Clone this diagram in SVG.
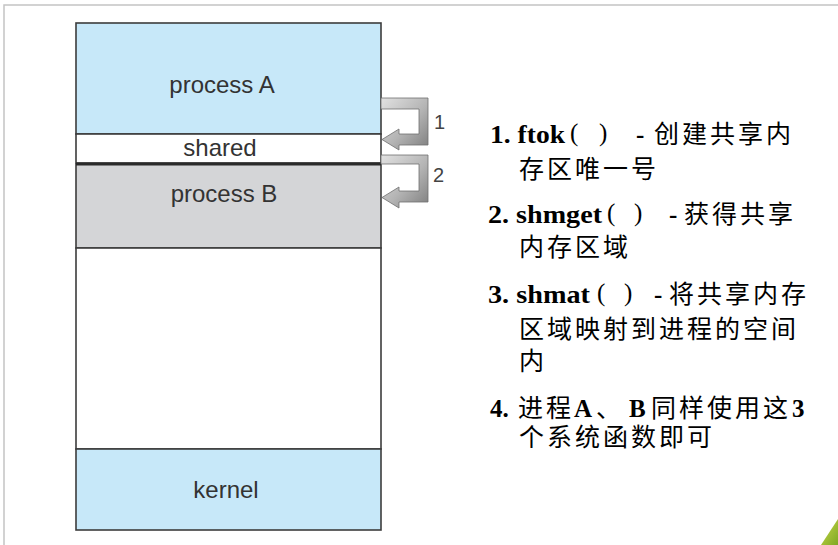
<svg xmlns="http://www.w3.org/2000/svg" width="838" height="545" viewBox="0 0 838 545">
  <defs>
    <linearGradient id="arrowGrad" x1="0" y1="0" x2="1" y2="1">
      <stop offset="0" stop-color="#e2e2e2"/>
      <stop offset="0.55" stop-color="#b4b4b4"/>
      <stop offset="1" stop-color="#7e7e7e"/>
    </linearGradient>
    <linearGradient id="leafGrad" x1="0" y1="0" x2="1" y2="1">
      <stop offset="0" stop-color="#c9d94a"/>
      <stop offset="1" stop-color="#7fa823"/>
    </linearGradient>
  </defs>
  <style>
    .seg { stroke: #3c3c3c; stroke-width: 1.6; }
    .blue { fill: #c7e8f9; }
    .gray { fill: #d4d5d7; }
    .white { fill: #ffffff; }
    .lbl { font-family: "Liberation Sans", Arial, sans-serif; font-size: 24px; fill: #333333; text-anchor: middle; }
    .num { font-family: "Liberation Sans", Arial, sans-serif; font-size: 20px; fill: #444444; }
    .arrow { fill: url(#arrowGrad); stroke: #6e6e6e; stroke-width: 0.8; }
    .lat { font-family: "Liberation Serif", "Times New Roman", serif; font-weight: bold; font-size: 25px; fill: #000; }
    .par { font-family: "Liberation Serif", "Times New Roman", serif; font-size: 25px; fill: #000; }
    .cjk { font-family: "Noto Sans CJK SC", sans-serif; font-size: 25px; letter-spacing: 3px; fill: #000; }
  </style>

  <rect x="0" y="0" width="838" height="545" fill="#ffffff"/>
  <path d="M4,545 L4,5 L838,5" fill="none" stroke="#c4c4c4" stroke-width="1.5"/>
  <polygon points="821,545 838,519 838,545" fill="url(#leafGrad)"/>

  <g id="processA">
    <rect class="seg blue" x="76" y="23" width="305" height="111"/>
    <text class="lbl" x="222" y="93">process A</text>
  </g>
  <g id="shared">
    <rect class="seg white" x="76" y="134" width="305" height="29"/>
    <text class="lbl" x="220" y="156">shared</text>
  </g>
  <g id="processB">
    <rect class="seg gray" x="76" y="164" width="305" height="84"/>
    <line x1="76" y1="164" x2="381" y2="164" stroke="#2a2a2a" stroke-width="3"/>
    <text class="lbl" x="224" y="202">process B</text>
  </g>
  <g id="free">
    <rect class="seg white" x="76" y="248" width="305" height="201"/>
  </g>
  <g id="kernel">
    <rect class="seg blue" x="76" y="449" width="305" height="81"/>
    <text class="lbl" x="226" y="498">kernel</text>
  </g>

  <g id="connectors">
    <path class="arrow" d="M381,98 L428,98 L428,145 L399,145 L399,150 L382,139.5 L399,129 L399,134 L419,134 L419,109 L381,109 Z"/>
    <path class="arrow" d="M381,155 L428,155 L428,202 L399,202 L399,208 L382,197.5 L399,187 L399,191 L419,191 L419,164 L381,164 Z"/>
  </g>
  <g id="arrowLabels">
    <text class="num" x="434" y="129">1</text>
    <text class="num" x="433" y="182">2</text>
  </g>

  <g id="notes">
    <text class="lat" x="490" y="143" textLength="75" lengthAdjust="spacingAndGlyphs">1. ftok</text>
    <text class="par" x="570" y="141">(</text>
    <text class="par" x="599" y="141">)</text>
    <text class="lat" x="636" y="143">-</text>
    <text class="cjk" x="654" y="143">创建共享内</text>
    <text class="cjk" x="519" y="178">存区唯一号</text>

    <text class="lat" x="488" y="223" textLength="114" lengthAdjust="spacingAndGlyphs">2. shmget</text>
    <text class="par" x="607" y="221">(</text>
    <text class="par" x="634" y="221">)</text>
    <text class="lat" x="669" y="223">-</text>
    <text class="cjk" x="684" y="223">获得共享</text>
    <text class="cjk" x="519" y="256">内存区域</text>

    <text class="lat" x="488" y="303" textLength="102" lengthAdjust="spacingAndGlyphs">3. shmat</text>
    <text class="par" x="597" y="301">(</text>
    <text class="par" x="624" y="301">)</text>
    <text class="lat" x="654" y="303">-</text>
    <text class="cjk" x="669" y="303">将共享内存</text>
    <text class="cjk" x="519" y="338">区域映射到进程的空间</text>
    <text class="cjk" x="519" y="370">内</text>

    <text class="lat" x="490" y="417">4.</text>
    <text class="cjk" x="518" y="417">进程</text>
    <text class="lat" x="574" y="417">A</text>
    <text class="cjk" x="596" y="417">、</text>
    <text class="lat" x="629" y="417">B</text>
    <text class="cjk" x="651" y="417">同样使用这</text>
    <text class="lat" x="792" y="417">3</text>
    <text class="cjk" x="519" y="446">个系统函数即可</text>
  </g>
</svg>
